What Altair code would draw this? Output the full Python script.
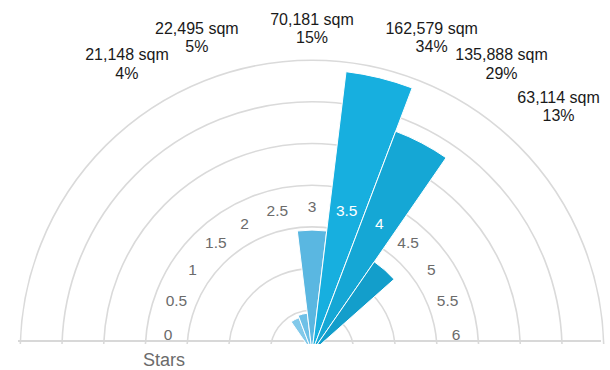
import math

import altair as alt
import pandas as pd

# Star-rating categories around the half circle (angular axis)
categories = ["0", "0.5", "1", "1.5", "2", "2.5", "3", "3.5", "4", "4.5", "5", "5.5", "6"]

# Floor area per star rating (sqm)
bar_stars = ["2", "2.5", "3", "3.5", "4", "4.5"]
bar_area = [21148, 22495, 70181, 162579, 135888, 63114]
bar_colors = ["#82c9ea", "#6dc0e7", "#5ab7e1", "#17afdf", "#15a7d5", "#139ecb"]

# Radial grid rings (sqm)
ring_area = [24000, 48000, 72000, 96000, 120000, 144000, 168000]

axis_title = "Stars"

# Layout constants
CX, CY = 312, 352          # centre of the half circle
N = len(categories)
AREA_MAX = 168000
R_MAX = 291.8
LABEL_R = 145              # radius of the category labels
DATA_LABEL_R = 310         # radius where the value labels start
FONT = "Liberation Sans, Arial, sans-serif"

bars = pd.DataFrame({"star": bar_stars, "area": bar_area, "color": bar_colors})
cats = pd.DataFrame({"star": categories})
rings = pd.DataFrame({"area": ring_area})

theta_scale = alt.Scale(domain=[0, N], range=[-math.pi / 2, math.pi / 2])
radius_scale = alt.Scale(type="linear", domain=[0, AREA_MAX], range=[0, R_MAX], zero=True)

ring_layer = (
    alt.Chart(rings)
    .transform_calculate(t0="0", t1=str(N))
    .mark_arc(filled=False, stroke="#dadada", strokeWidth=1.6, clip=True)
    .encode(
        x=alt.value(CX),
        y=alt.value(CY),
        theta=alt.Theta("t0:Q", scale=theta_scale, stack=None),
        theta2="t1:Q",
        radius=alt.Radius("area:Q", scale=radius_scale),
    )
)

base_line = (
    alt.Chart(pd.DataFrame({"v": [0]}))
    .mark_rule(color="#d8d8d8", strokeWidth=2)
    .encode(x=alt.value(18), x2=alt.value(601), y=alt.value(341))
)

bar_layer = (
    alt.Chart(bars)
    .transform_calculate(
        t0="toNumber(datum.star) * 2",
        t1="toNumber(datum.star) * 2 + 1",
    )
    .mark_arc(stroke="white", strokeWidth=1, clip=True)
    .encode(
        x=alt.value(CX),
        y=alt.value(CY),
        theta=alt.Theta("t0:Q", scale=theta_scale, stack=None),
        theta2="t1:Q",
        radius=alt.Radius("area:Q", scale=radius_scale),
        color=alt.Color("color:N", scale=None),
    )
)

angle_expr = f"-PI / 2 + (toNumber(datum.star) * 2 + 0.5) * PI / {N}"
inside_threshold = LABEL_R / R_MAX * AREA_MAX

cat_labels = (
    alt.Chart(cats)
    .transform_lookup(lookup="star", from_=alt.LookupData(bars, "star", ["area"]))
    .transform_calculate(ang=angle_expr)
    .transform_calculate(
        px=f"{CX} + {LABEL_R} * sin(datum.ang)",
        py=f"{CY} - {LABEL_R} * cos(datum.ang)",
    )
    .mark_text(font=FONT, fontSize=15.5, align="center", baseline="middle")
    .encode(
        x=alt.X("px:Q", scale=None, axis=None),
        y=alt.Y("py:Q", scale=None, axis=None),
        text="star:N",
        color=alt.when(alt.datum.area > inside_threshold)
        .then(alt.value("white"))
        .otherwise(alt.value("#6b6b6b")),
    )
)

value_base = (
    alt.Chart(bars)
    .transform_joinaggregate(total="sum(area)")
    .transform_calculate(
        ang=angle_expr,
        line1="format(datum.area, ',') + ' sqm'",
        line2="round(datum.area / datum.total * 100) + '%'",
    )
    .transform_calculate(
        sgn="datum.ang > 0.01 ? 1 : (datum.ang < -0.01 ? -1 : 0)",
        w="length(datum.line1) * 8.9 - 7",
    )
    .transform_calculate(
        px=f"{CX} + {DATA_LABEL_R} * sin(datum.ang) + datum.sgn * datum.w / 2",
        py2=f"{CY} - {DATA_LABEL_R} * cos(datum.ang) - 4",
    )
    .transform_calculate(py1="datum.py2 - 18.4")
)

value_line1 = value_base.mark_text(
    font=FONT, fontSize=16, align="center", baseline="middle", color="#1a1a1a"
).encode(
    x=alt.X("px:Q", scale=None, axis=None),
    y=alt.Y("py1:Q", scale=None, axis=None),
    text="line1:N",
)

value_line2 = value_base.mark_text(
    font=FONT, fontSize=16, align="center", baseline="middle", color="#1a1a1a"
).encode(
    x=alt.X("px:Q", scale=None, axis=None),
    y=alt.Y("py2:Q", scale=None, axis=None),
    text="line2:N",
)

title_text = (
    alt.Chart(pd.DataFrame({"t": [axis_title]}))
    .mark_text(font=FONT, fontSize=18, align="center", baseline="alphabetic", color="#6b6b6b")
    .encode(x=alt.value(164), y=alt.value(366), text="t:N")
)

chart = (
    alt.layer(ring_layer, base_line, bar_layer, cat_labels, value_line1, value_line2, title_text)
    .properties(
        width=610,
        height=344,
        autosize="none",
        padding={"left": 0, "right": 0, "top": 0, "bottom": 26},
        background="white",
    )
    .configure_view(strokeWidth=0)
)

chart.save("out.html", embed_options={"renderer": "svg", "actions": False})
